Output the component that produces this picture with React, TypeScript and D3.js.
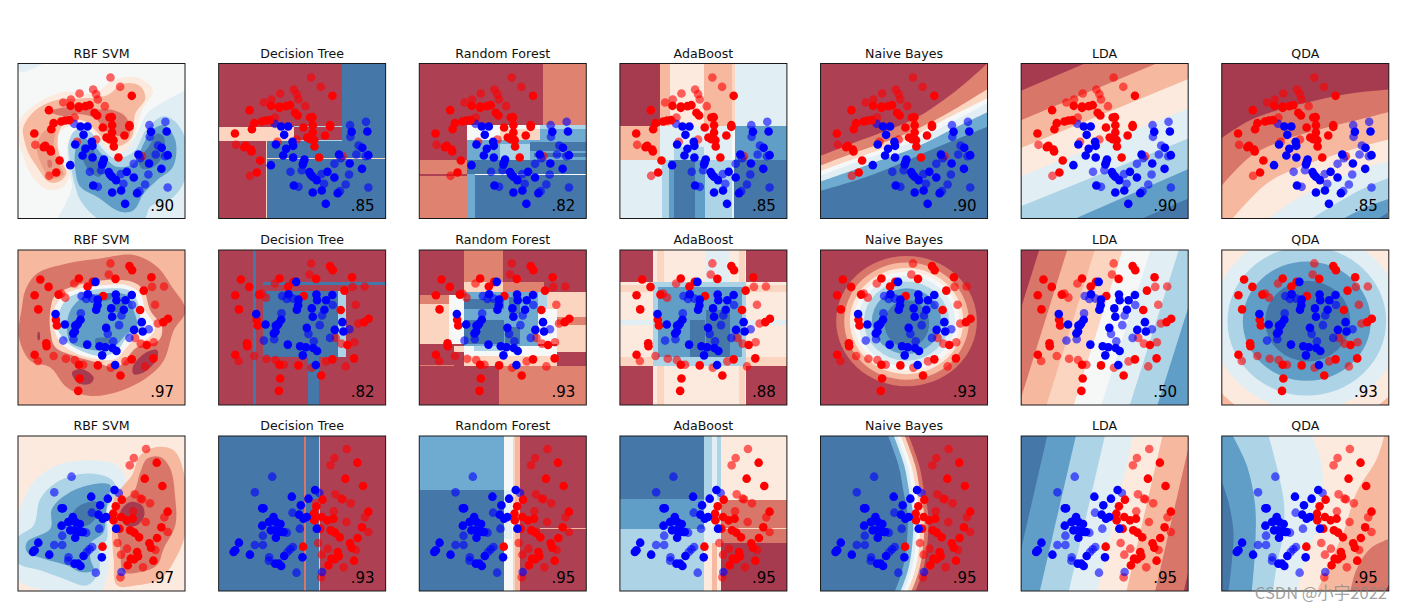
import React from "react";
import * as d3 from "d3";

// ---- band colours (RdBu at alpha .8 over white)
const r5 = "#a63b50", r4 = "#ae4054", r3 = "#d9766a", r3b = "#e08270", r2c = "#ec9f88", r2 = "#f6b9a0", r1 = "#fcd5c0", r0 = "#fdeadf";
const w0 = "#f6f8f8", b0 = "#e1eef4", b1 = "#add3e6", b2 = "#609ec8", b2b = "#6fabd0", b3 = "#4577a9";

type Pt = [number, number];
type Shape =
  | { t: "r"; c: string; v: number[] }
  | { t: "b"; c: string; v: number[] }
  | { t: "e"; c: string; v: number[] }
  | { t: "c"; c: string; k: string; v: number[] };
const R = (c: string, ...v: number[]): Shape => ({ t: "r", c, v });
const B = (c: string, ...v: number[]): Shape => ({ t: "b", c, v });
const E = (c: string, ...v: number[]): Shape => ({ t: "e", c, v });
const C = (c: string, k: string, ...v: number[]): Shape => ({ t: "c", c, k, v });

const titles = ["RBF SVM", "Decision Tree", "Random Forest", "AdaBoost", "Naive Bayes", "LDA", "QDA"];
const scores = [
  [".90", ".85", ".82", ".85", ".90", ".90", ".85"],
  [".97", ".82", ".93", ".88", ".93", ".50", ".93"],
  [".97", ".93", ".95", ".95", ".95", ".95", ".95"],
];
const originX = [53, 655, 57, 660, 61, 664, 65];
const originY = [100, 60, 62];
const spanY = [465, 462, 465];

const redTrain1: number[] = [997,197,748,240,813,227,838,229,838,233,858,228,870,225,885,248,893,256,930,262,937,261,938,285,910,292,990,285,990,290,938,307,975,316,921,322,930,327,942,330,943,349,762,279,755,297,785,274,797,271,809,270,704,310,737,347,732,351,752,358,754,364,780,391,770,427,957,382];
const redTest1: number[] = [933,142,962,170,840,190,881,178,890,192,895,208,791,217,814,208,916,228,707,344,749,437,832,335,890,328,825,262,1028,378];
const blueTrain1: number[] = [843,289,864,289,852,314,827,343,877,335,879,347,858,356,849,376,879,382,913,388,910,397,908,403,812,405,1017,373,1055,305,1102,304,1087,353,1105,375,1049,400,1086,416,928,426,932,434,938,440,950,450,982,425,1003,442,881,466,938,487,965,481,1013,489,977,521];
const blueTest1: number[] = [824,281,1050,285,1098,275,1051,320,1076,346,1069,373,1097,378,871,425,905,420,1003,401,1022,384,964,432,1047,433,1037,463,972,461,895,470,1020,483,1105,472];

const redTrain2: number[] = [722,148,747,170,705,195,716,237,838,145,864,169,880,155,777,193,911,197,990,108,998,120,1056,141,1033,181,1022,239,1106,265,1092,275,769,268,772,285,740,338,741,347,705,372,1042,343,1062,383,997,386,838,402,895,404,840,443,836,480,963,434,948,146];
const redTest2: number[] = [933,100,928,133,824,160,785,190,797,202,1058,170,1094,169,1067,223,1075,279,1007,322,1024,339,1063,335,715,391,762,376,934,411,1037,407,978,392,851,402,826,388,799,384];
const blueTrain2: number[] = [888,155,865,192,895,208,894,225,890,238,949,193,951,210,997,194,978,210,935,234,973,238,938,259,768,251,796,282,843,268,835,280,827,285,831,285,826,303,821,309,863,342,920,292,900,347,917,350,939,352,951,361,908,374,947,403,1027,275,1004,298,1030,303];
const blueTest2: number[] = [846,197,860,206,879,205,998,224,966,255,844,249,959,284,1048,296,791,330,822,326,941,332,990,322,925,310];

const blueTrain3: number[] = [875,244,925,250,945,224,902,270,786,279,790,279,897,298,910,310,920,305,820,305,812,318,806,320,786,331,828,320,841,326,812,345,825,345,835,350,846,350,850,350,827,367,716,382,705,405,700,410,749,418,852,422,825,445,836,445,843,452,907,426,950,340];
const blueTest3: number[] = [816,184,764,231,958,233,877,292,899,340,788,361,860,352,764,389,788,389,878,395,870,402,862,410,807,426,806,436,889,472,966,470];
const redTrain3: number[] = [1036,190,1072,142,1089,212,967,253,949,273,941,295,965,305,942,315,982,315,1000,310,960,340,992,345,1005,352,1019,366,1105,289,1086,336,1073,368,1050,384,1055,397,909,394,1013,410,1016,423,1004,432,994,430,985,450,1062,436];
const redTest3: number[] = [1040,101,1003,128,991,150,1006,237,1024,250,1052,264,1028,252,1001,288,1095,306,1039,320,1105,350,954,383,983,400,965,418,1068,404,1031,456,963,486];

const rowPoints = [
  { rt: redTrain1, rs: redTest1, bt: blueTrain1, bs: blueTest1 },
  { rt: redTrain2, rs: redTest2, bt: blueTrain2, bs: blueTest2 },
  { rt: redTrain3, rs: redTest3, bt: blueTrain3, bs: blueTest3 },
];

// ---- decision regions, row 1
const svm1: Shape[] = [
  R(w0, 53, 100, 553, 565),
  B(b0, 50, 97, 130, 97, 60, 125),
  C(b0, "br", 556, 180, 490, 215, 440, 250, 390, 340, 340, 350, 290, 320, 240, 295, 205, 330, 205, 420, 215, 470, 170, 568),
  B(b1, 490, 258, 525, 275, 556, 330, 556, 440, 520, 500, 450, 530, 430, 568, 300, 568, 240, 510, 225, 470, 210, 400, 205, 340, 225, 300, 270, 305, 305, 355, 345, 385, 400, 365, 440, 295),
  B(b2, 490, 285, 525, 330, 518, 410, 470, 450, 430, 490, 400, 540, 360, 545, 290, 500, 240, 470, 225, 420, 225, 360, 240, 322, 270, 335, 310, 378, 350, 410, 400, 400, 430, 340, 450, 305),
  B(b3, 245, 345, 270, 345, 290, 385, 310, 420, 295, 440, 265, 420, 245, 380),
  B(b3, 470, 310, 490, 320, 490, 370, 460, 410, 425, 415, 415, 390, 445, 350),
  B(r0, 60, 265, 110, 220, 190, 185, 280, 190, 340, 150, 410, 142, 458, 180, 425, 240, 405, 310, 375, 362, 335, 368, 300, 332, 265, 292, 220, 285, 185, 300, 165, 345, 190, 400, 208, 430, 185, 473, 140, 478, 100, 445, 65, 370, 52, 310),
  B(r2, 68, 295, 100, 245, 160, 212, 240, 205, 320, 195, 370, 160, 420, 168, 435, 205, 405, 250, 395, 320, 365, 345, 330, 345, 290, 305, 250, 272, 205, 272, 180, 295, 172, 345, 185, 395, 198, 430, 175, 455, 145, 455, 110, 410, 85, 370, 72, 330),
  B(r3, 150, 245, 190, 232, 270, 238, 340, 240, 378, 262, 388, 312, 358, 318, 320, 305, 285, 265, 240, 252, 190, 258),
  B(r2c, 110, 345, 135, 300, 165, 295, 160, 345, 178, 405, 190, 432, 165, 445, 145, 440, 120, 395),
  B(r3, 142, 390, 152, 390, 155, 410, 145, 412),
  B(r3, 330, 270, 370, 275, 375, 305, 345, 310),
];
const tree1: Shape[] = [
  R(r4, 655, 100, 1157, 565),
  R(b3, 1025, 100, 1157, 565),
  R(b3, 797, 332, 1157, 565),
  R(r1, 655, 290, 880, 332),
  R(b1, 880, 288, 1025, 291),
  R(b1, 880, 330, 1025, 333),
  R(r1, 797, 332, 800, 565),
  R(r1, 797, 383, 1157, 387),
];
const forest1: Shape[] = [
  R(r4, 57, 100, 427, 290),
  R(r3b, 427, 100, 560, 285),
  R(r4, 57, 290, 200, 390),
  R(r3b, 57, 390, 200, 430),
  R(r4, 57, 430, 200, 437),
  R(r3b, 57, 437, 200, 565),
  R(w0, 200, 285, 420, 330),
  R(r1, 300, 295, 420, 330),
  R(b1, 420, 285, 560, 295),
  R(b2b, 420, 295, 560, 335),
  R(b2b, 200, 330, 560, 390),
  R(b1, 300, 340, 390, 390),
  R(b3, 390, 335, 560, 362),
  R(b3, 400, 368, 560, 380),
  R(b3, 200, 390, 560, 430),
  R(b2b, 200, 430, 225, 565),
  R(b3, 225, 433, 560, 565),
];
const ada1: Shape[] = [
  R(r5, 660, 100, 780, 288),
  R(r2, 780, 100, 810, 288),
  R(r0, 810, 100, 912, 288),
  R(r2, 912, 100, 995, 288),
  R(r1, 995, 100, 1005, 288),
  R(b0, 1005, 100, 1160, 288),
  R(r2, 660, 288, 780, 390),
  R(b0, 780, 288, 995, 390),
  R(b1, 822, 350, 912, 390),
  R(w0, 995, 288, 1005, 390),
  R(b2, 1005, 288, 1160, 390),
  R(b0, 660, 390, 785, 565),
  R(b1, 785, 390, 808, 565),
  R(b2, 808, 390, 822, 565),
  R(b3, 822, 390, 885, 565),
  R(b2, 885, 390, 915, 565),
  R(b1, 915, 390, 995, 565),
  R(b0, 995, 390, 1003, 565),
  R(b3, 1003, 390, 1160, 565),
];
const bayes1: Shape[] = [
  R(b3, 61, 100, 561, 565),
  C(b2b, "tr tl", 58, 483, 200, 440, 350, 378, 450, 335, 565, 288),
  C(b0, "tr tl", 58, 455, 200, 405, 350, 350, 450, 300, 565, 245),
  C(w0, "tr tl", 58, 437, 200, 385, 350, 330, 450, 278, 565, 218),
  C(r1, "tr tl", 58, 423, 200, 372, 300, 337, 450, 260, 565, 203),
  C(r3b, "tr tl", 58, 407, 150, 372, 250, 337, 350, 297, 450, 245, 565, 175),
  C(r4, "tr tl", 58, 378, 150, 342, 250, 305, 350, 262, 450, 195, 500, 155, 565, 97),
];
const lda1: Shape[] = [
  R(b3, 664, 100, 1164, 565),
  C(b2, "tr tl bl", 1020, 568, 1170, 503),
  C(b1, "tr tl bl", 820, 568, 1170, 415),
  C(b0, "tr tl", 660, 530, 1170, 323),
  C(r0, "tr tl", 660, 440, 1170, 233),
  C(r2, "tr tl", 660, 355, 1170, 145),
  C(r3, "tr tl", 660, 272, 1070, 100),
  C(r5, "tr tl", 660, 183, 855, 100),
];
const qda1: Shape[] = [
  R(b3, 65, 100, 565, 565),
  C(b2, "tr tl bl", 530, 568, 568, 545),
  C(b1, "tr tl bl", 425, 568, 500, 530, 568, 505),
  C(b0, "tr tl bl", 330, 568, 400, 525, 500, 470, 568, 443),
  C(r0, "tr tl bl", 200, 568, 300, 500, 400, 450, 500, 410, 568, 393),
  C(r2, "tr tl bl", 95, 568, 200, 460, 300, 410, 400, 375, 500, 345, 568, 328),
  C(r3, "tr tl", 62, 470, 150, 380, 250, 330, 350, 300, 450, 275, 568, 245),
  C(r5, "tr tl", 62, 325, 150, 270, 250, 235, 350, 210, 450, 190, 568, 178),
];

// ---- decision regions, row 2
const svm2: Shape[] = [
  R(r2, 53, 60, 553, 522),
  B(r3, 75, 180, 110, 130, 200, 100, 300, 85, 400, 75, 470, 110, 515, 170, 556, 240, 520, 300, 490, 390, 440, 440, 360, 480, 270, 495, 200, 470, 150, 410, 90, 390, 56, 320, 65, 230),
  B(r5, 215, 425, 245, 415, 280, 440, 270, 458, 235, 458),
  B(r5, 397, 410, 430, 370, 470, 358, 470, 385, 430, 425, 400, 430),
  E(r5, 115, 317, 4, 13),
  B(r1, 150, 240, 165, 195, 230, 165, 310, 150, 395, 155, 430, 180, 450, 240, 485, 290, 475, 330, 410, 350, 350, 410, 290, 395, 220, 375, 165, 350, 150, 300),
  B(w0, 160, 240, 190, 195, 240, 175, 310, 165, 380, 165, 420, 190, 435, 240, 465, 290, 440, 325, 395, 335, 345, 385, 290, 385, 220, 365, 180, 335, 160, 290),
  B(b1, 175, 250, 200, 205, 250, 185, 320, 175, 385, 180, 410, 210, 420, 270, 420, 300, 385, 315, 345, 365, 295, 375, 230, 355, 195, 330, 170, 290),
  B(b2, 210, 240, 250, 200, 310, 190, 380, 195, 400, 240, 410, 290, 380, 310, 340, 350, 300, 360, 240, 350, 210, 335, 200, 290),
  B(b3, 285, 325, 325, 325, 325, 345, 290, 345),
  B(b3, 335, 225, 370, 220, 370, 240, 345, 245),
  B(b3, 300, 195, 340, 190, 330, 207, 305, 210),
];
const tree2: Shape[] = [
  R(r4, 655, 60, 1157, 522),
  R(b3, 757, 60, 768, 522),
  R(b3, 787, 155, 1157, 165),
  R(b3, 787, 183, 1013, 378),
  R(b1, 1013, 183, 1037, 378),
  R(b3, 922, 378, 955, 522),
];
const forest2: Shape[] = [
  R(r4, 57, 60, 560, 522),
  R(r3b, 190, 60, 308, 155),
  R(r1, 190, 155, 308, 185),
  R(r3b, 308, 155, 430, 185),
  R(r3b, 57, 195, 145, 220),
  R(r1, 57, 220, 145, 340),
  R(w0, 145, 195, 190, 340),
  R(r1, 430, 185, 560, 235),
  R(w0, 412, 235, 470, 340),
  R(r1, 470, 235, 560, 340),
  R(r3b, 470, 260, 560, 285),
  R(b1, 412, 185, 440, 235),
  R(b2b, 190, 185, 412, 345),
  R(b3, 190, 205, 310, 235),
  R(b3, 190, 270, 310, 340),
  R(b3, 325, 200, 360, 250),
  R(b3, 315, 290, 360, 340),
  R(r1, 160, 345, 190, 365),
  R(w0, 190, 345, 470, 375),
  R(b1, 220, 345, 360, 360),
  R(r1, 190, 375, 470, 405),
  R(r1, 470, 340, 560, 365),
  R(r4, 57, 405, 297, 522),
  R(r3b, 297, 405, 560, 522),
  R(r3b, 57, 402, 160, 405),
];
const ada2: Shape[] = [
  R(r0, 660, 60, 1160, 522),
  R(r4, 660, 60, 760, 155),
  R(r4, 1037, 60, 1160, 155),
  R(r4, 660, 405, 760, 522),
  R(r4, 1037, 405, 1160, 522),
  R(r1, 772, 60, 792, 155),
  R(r1, 772, 405, 792, 522),
  R(r1, 1018, 60, 1035, 155),
  R(r1, 1018, 405, 1035, 522),
  R(b0, 918, 60, 988, 155),
  R(r1, 660, 165, 760, 185),
  R(r1, 1037, 165, 1160, 185),
  R(r1, 660, 378, 760, 405),
  R(r1, 1037, 378, 1160, 405),
  R(b0, 660, 268, 760, 283),
  R(b0, 1037, 268, 1160, 283),
  R(b1, 760, 155, 1037, 405),
  R(b2, 775, 170, 1025, 380),
  R(b3, 870, 268, 915, 378),
  R(b3, 918, 240, 990, 378),
];
const bayes2: Shape[] = [
  R(r4, 61, 60, 561, 522),
  E(r3, 319, 272, 211, 194),
  E(r2, 319, 272, 187, 175),
  E(r0, 319, 272, 170, 158),
  E(w0, 319, 272, 158, 147),
  E(b0, 319, 272, 145, 135),
  E(b1, 319, 272, 128, 118),
  E(b2, 319, 272, 104, 98),
  E(b3, 320, 280, 67, 70),
];
const lda2: Shape[] = [
  R(r5, 664, 60, 1164, 522),
  C(r3, "br tr", 718, 60, 573, 522),
  C(r2, "br tr", 802, 60, 657, 522),
  C(r1, "br tr", 885, 60, 740, 522),
  C(w0, "br tr", 968, 60, 822, 522),
  C(b0, "br tr", 1052, 60, 905, 522),
  C(b1, "br tr", 1137, 60, 990, 522),
  C(b2, "br tr", 1220, 60, 1073, 522),
];
const qda2: Shape[] = [
  R(r3, 65, 60, 565, 522),
  E(r2, 320, 272, 385, 355),
  E(r0, 320, 272, 345, 320),
  E(b0, 320, 272, 285, 265),
  E(b1, 320, 272, 238, 222),
  E(b2, 320, 272, 192, 178),
  E(b3, 323, 272, 128, 120),
];

// ---- decision regions, row 3
const svm3: Shape[] = [
  R(r0, 53, 62, 553, 527),
  B(b0, 60, 280, 100, 200, 170, 150, 280, 135, 350, 150, 375, 190, 345, 260, 330, 300, 330, 400, 320, 480, 300, 530, 170, 530, 50, 490, 50, 360),
  B(b1, 50, 370, 100, 330, 120, 250, 170, 200, 250, 175, 330, 190, 350, 225, 320, 280, 320, 370, 300, 400, 295, 470, 260, 510, 190, 490, 120, 465, 50, 440),
  B(b2, 80, 380, 150, 340, 155, 280, 210, 230, 290, 205, 330, 210, 325, 245, 315, 300, 310, 350, 270, 385, 270, 430, 280, 465, 240, 470, 200, 450, 130, 430, 80, 410),
  B(b3, 215, 300, 240, 270, 290, 260, 295, 290, 270, 325, 230, 335),
  B(r2, 395, 180, 420, 120, 470, 95, 520, 105, 550, 170, 556, 350, 520, 440, 480, 490, 410, 510, 350, 510, 340, 430, 335, 360, 340, 250, 370, 210),
  B(r3, 420, 170, 440, 130, 480, 125, 510, 160, 525, 250, 525, 330, 490, 400, 470, 450, 420, 470, 370, 470, 360, 400, 350, 340, 350, 270, 400, 230),
  B(r5, 360, 290, 390, 260, 425, 270, 432, 300, 410, 330, 375, 330),
];
const tree3: Shape[] = [
  R(b3, 655, 62, 1157, 527),
  R(r3, 910, 62, 916, 527),
  R(r4, 935, 250, 958, 323),
  R(b1, 957, 62, 960, 527),
  R(r4, 960, 62, 1157, 527),
];
const forest3: Shape[] = [
  R(b2b, 57, 62, 312, 225),
  R(b3, 57, 225, 312, 527),
  R(w0, 312, 62, 337, 527),
  R(b0, 312, 225, 335, 370),
  R(r1, 337, 62, 345, 527),
  R(r2, 345, 62, 360, 527),
  R(r4, 360, 62, 560, 527),
  R(r2, 420, 338, 560, 342),
];
const ada3: Shape[] = [
  R(b3, 660, 62, 913, 250),
  R(b2, 660, 250, 913, 340),
  R(b1, 660, 340, 913, 527),
  R(b1, 913, 62, 937, 253),
  R(b0, 937, 62, 950, 253),
  R(b1, 950, 62, 963, 253),
  R(b0, 913, 253, 963, 383),
  R(r0, 913, 383, 937, 527),
  R(r2, 937, 383, 950, 527),
  R(r0, 950, 383, 963, 527),
  R(r0, 963, 62, 1160, 253),
  R(r3, 963, 253, 1160, 383),
  R(r1, 963, 338, 1160, 342),
  R(r5, 963, 383, 1160, 527),
];
const bayes3: Shape[] = [
  R(r4, 61, 62, 561, 527),
  C(r3, "bl tl", 325, 60, 357, 150, 372, 230, 384, 300, 380, 400, 367, 470, 345, 530),
  C(r1, "bl tl", 313, 60, 345, 150, 360, 230, 372, 300, 368, 400, 355, 470, 333, 530),
  C(w0, "bl tl", 301, 60, 333, 150, 348, 230, 360, 300, 356, 400, 343, 470, 321, 530),
  C(b0, "bl tl", 290, 60, 322, 150, 337, 230, 349, 300, 345, 400, 332, 470, 310, 530),
  C(b2b, "bl tl", 280, 60, 312, 150, 327, 230, 339, 300, 335, 400, 322, 470, 300, 530),
  C(b3, "bl tl", 263, 60, 295, 150, 310, 230, 322, 300, 318, 400, 305, 470, 283, 530),
];
const lda3: Shape[] = [
  R(r5, 664, 62, 1164, 527),
  C(r3, "bl tl", 1260, 62, 1152, 527),
  C(r2, "bl tl", 1174, 62, 1066, 527),
  C(r0, "bl tl", 1088, 62, 980, 527),
  C(b0, "bl tl", 1000, 62, 893, 527),
  C(b1, "bl tl", 915, 62, 807, 527),
  C(b2, "bl tl", 828, 62, 720, 527),
  C(b3, "bl tl", 742, 62, 635, 527),
];
const qda3: Shape[] = [
  R(r3, 65, 62, 565, 527),
  C(r5, "br", 568, 505, 553, 530),
  C(r2, "bl tl tr", 568, 370, 510, 400, 470, 460, 450, 530),
  C(r0, "bl tl", 553, 60, 530, 130, 470, 230, 430, 350, 390, 440, 350, 530),
  C(b0, "bl tl", 335, 60, 365, 150, 365, 300, 320, 420, 290, 530),
  C(b1, "bl tl", 205, 60, 250, 250, 250, 350, 230, 450, 218, 530),
  C(b2, "bl tl", 97, 60, 140, 150, 165, 270, 165, 400, 155, 530),
  C(b3, "bl", 62, 190, 85, 260, 100, 350, 95, 440, 85, 530),
];

const regions: Shape[][][] = [
  [svm1, tree1, forest1, ada1, bayes1, lda1, qda1],
  [svm2, tree2, forest2, ada2, bayes2, lda2, qda2],
  [svm3, tree3, forest3, ada3, bayes3, lda3, qda3],
];

const pairs = (v: number[]): Pt[] => d3.range(0, v.length, 2).map((i) => [v[i], v[i + 1]] as Pt);

const WIDTH = 1401, HEIGHT = 611;
const panelW = 167, panelH = 155;
const colLeft = d3.scaleLinear().domain([0, 6]).range([18, 1221.8]);
const rowTop = [63.5, 250, 436];

function Panel({ row, col }: { row: number; col: number }) {
  const left = colLeft(col), top = rowTop[row];
  const ox = originX[col], oy = originY[row], sy = spanY[row];
  const x = d3.scaleLinear().domain([ox, ox + 501]).range([0, panelW]);
  const y = d3.scaleLinear().domain([oy, oy + sy]).range([0, panelH]);
  const px = d3.scaleLinear().domain([655, 1157]).range([0, panelW]);
  const closed = d3.line<Pt>().x((d) => x(d[0])).y((d) => y(d[1])).curve(d3.curveCatmullRomClosed);
  const open = d3.line<Pt>().x((d) => x(d[0])).y((d) => y(d[1])).curve(d3.curveCatmullRom);
  const corner: Record<string, Pt> = {
    tl: [ox - 20, oy - 20], tr: [ox + 520, oy - 20], bl: [ox - 20, oy + sy + 20], br: [ox + 520, oy + sy + 20],
  };
  const clipId = `clip-${row}-${col}`;
  const pts = rowPoints[row];
  const dots = (v: number[], fill: string, op: number) =>
    pairs(v).map((d, i) => <circle key={fill + op + i} cx={px(d[0])} cy={y(d[1])} r={4.3} fill={fill} fillOpacity={op} />);
  return (
    <g transform={`translate(${left},${top})`}>
      <clipPath id={clipId}><rect width={panelW} height={panelH} /></clipPath>
      <g clipPath={`url(#${clipId})`}>
        {regions[row][col].map((s, i) => {
          if (s.t === "r") {
            return <rect key={i} x={x(s.v[0])} y={y(s.v[1])} width={x(s.v[2]) - x(s.v[0])} height={y(s.v[3]) - y(s.v[1])} fill={s.c} shapeRendering="crispEdges" />;
          }
          if (s.t === "e") {
            return <ellipse key={i} cx={x(s.v[0])} cy={y(s.v[1])} rx={x(s.v[0] + s.v[2]) - x(s.v[0])} ry={y(s.v[1] + s.v[3]) - y(s.v[1])} fill={s.c} />;
          }
          if (s.t === "b") return <path key={i} d={closed(pairs(s.v)) || ""} fill={s.c} />;
          const tail = s.k.split(" ").map((k) => `L${x(corner[k][0])},${y(corner[k][1])}`).join("");
          return <path key={i} d={(open(pairs(s.v)) || "") + tail + "Z"} fill={s.c} />;
        })}
        {dots(pts.rs, "#ff0000", 0.6)}
        {dots(pts.bs, "#0000ff", 0.6)}
        {dots(pts.rt, "#ff0000", 1)}
        {dots(pts.bt, "#0000ff", 1)}
      </g>
      <rect width={panelW} height={panelH} fill="none" stroke="#1a1a1a" strokeWidth={1} />
      <text x={panelW / 2} y={-6} textAnchor="middle" fontFamily="DejaVu Sans" fontSize={12.6} fill="#111">{titles[col]}</text>
      <text x={panelW - 11} y={panelH - 8} textAnchor="end" fontFamily="DejaVu Sans" fontSize={15} fill="#000">{scores[row][col]}</text>
    </g>
  );
}

export default function App() {
  return (
    <svg width={WIDTH} height={HEIGHT} viewBox={`0 0 ${WIDTH} ${HEIGHT}`} style={{ position: "absolute", left: 0, top: 0 }}>
      <rect width={WIDTH} height={HEIGHT} fill="#fff" />
      {d3.range(3).map((r) => d3.range(7).map((c) => <Panel key={`${r}-${c}`} row={r} col={c} />))}
      <text x={1387} y={599} textAnchor="end" fontFamily="'Noto Sans CJK SC', 'DejaVu Sans'" fontSize={16.5} fill="#8a8a8a" fillOpacity={0.8}>CSDN @小宇2022</text>
    </svg>
  );
}
